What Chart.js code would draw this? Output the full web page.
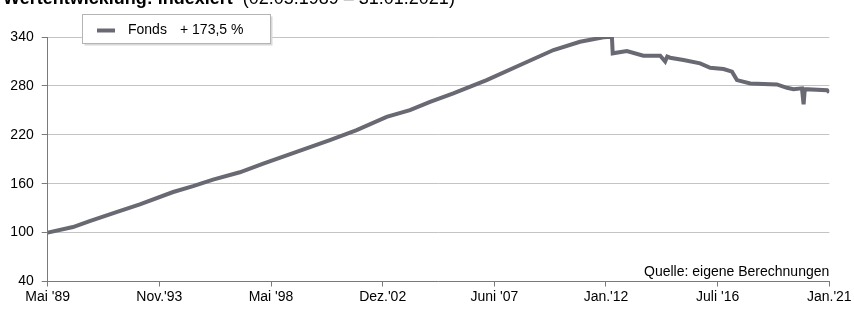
<!DOCTYPE html>
<html>
<head>
<meta charset="utf-8">
<script src="https://cdn.jsdelivr.net/npm/chart.js@4.4.1/dist/chart.umd.min.js"></script>
<style>
  html, body { margin: 0; padding: 0; background: #ffffff; }
  #wrap { width: 854px; height: 309px; position: relative; }
</style>
</head>
<body>
<div id="wrap"><canvas id="c" width="854" height="309"></canvas></div>
<script>
// ---- data (x = months since May 1989) ----
const monthIndex = [0, 12.3, 20.4, 33.4, 44.8, 61, 70.7, 80.4, 93.4, 104.8, 121, 137.2, 150.2, 164.8, 176.1, 185.9, 197.2, 213.4, 229.7, 245.9, 258.8, 270.2, 274.3, 274.7, 281.6, 289.6, 297.8, 300.2, 301.2, 302.6, 309.1, 317.2, 322.1, 328.6, 332.7, 335.1, 341.6, 354.5, 359.4, 362.6, 366.7, 367.5, 368.1, 378.9, 380];
const fondsValues = [100, 106.8, 114.2, 125.2, 134.7, 149.8, 157, 165, 174, 184.7, 199, 213.4, 225.7, 242, 250.2, 260.5, 270.8, 287.1, 305.6, 324, 334.2, 339.6, 340.4, 320, 322.8, 317, 317, 310, 316, 314.6, 311.7, 307.7, 302.3, 300.7, 297.4, 287.1, 283, 281.8, 277.7, 276, 277, 257.3, 276, 274.8, 272];
const xTickLabels = ["Mai '89", "Nov.'93", "Mai '98", "Dez.'02", "Juni '07", "Jan.'12", "Juli '16", "Jan.'21"];
const yTickValues = [40, 100, 160, 220, 280, 340];
const seriesLabel = "Fonds";
const legendSuffix = "+ 173,5 %";
const titleBold = "Wertentwicklung: indexiert";
const titleNormal = "(02.05.1989 \u2013 31.01.2021)";
const sourceNote = "Quelle: eigene Berechnungen";
const totalMonths = 380;

const FONT = "'Liberation Sans', Arial, sans-serif";
const LINE_COLOR = '#696973';

const points = monthIndex.map((m, i) => ({ x: m, y: fondsValues[i] }));

const decorPlugin = {
  id: 'decor',
  beforeDraw(chart) {
    const ctx = chart.ctx;
    ctx.save();
    ctx.fillStyle = '#ffffff';
    ctx.fillRect(0, 0, chart.width, chart.height);
    ctx.restore();
  },
  afterDraw(chart) {
    const ctx = chart.ctx;
    const area = chart.chartArea;
    ctx.save();
    // title (cut off at top)
    ctx.fillStyle = '#000000';
    ctx.textBaseline = 'alphabetic';
    ctx.textAlign = 'left';
    ctx.font = 'bold 18px ' + FONT;
    ctx.fillText(titleBold, 3, 4);
    const w = ctx.measureText(titleBold).width;
    ctx.font = '18px ' + FONT;
    ctx.fillText(titleNormal, 3 + w + 10, 4);

    // source note
    ctx.font = '14px ' + FONT;
    ctx.textAlign = 'right';
    ctx.fillText(sourceNote, area.right, area.bottom - 6);

    // legend box
    const bx = 82.5, by = 14.5, bw = 188, bh = 29;
    ctx.fillStyle = '#d8d8d8';
    ctx.fillRect(bx + 2, by + 2, bw, bh);
    ctx.fillStyle = '#ffffff';
    ctx.fillRect(bx, by, bw, bh);
    ctx.strokeStyle = '#b4b4b4';
    ctx.lineWidth = 1;
    ctx.strokeRect(bx, by, bw, bh);
    ctx.strokeStyle = LINE_COLOR;
    ctx.lineWidth = 4;
    ctx.beginPath();
    ctx.moveTo(97, 30.5);
    ctx.lineTo(115, 30.5);
    ctx.stroke();
    ctx.fillStyle = '#000000';
    ctx.font = '14px ' + FONT;
    ctx.textAlign = 'left';
    ctx.textBaseline = 'middle';
    ctx.fillText(seriesLabel, 128, 30);
    ctx.fillText(legendSuffix, 180, 30);
    ctx.restore();
  }
};

new Chart(document.getElementById('c'), {
  type: 'line',
  data: {
    datasets: [{
      label: seriesLabel,
      data: points,
      borderColor: LINE_COLOR,
      borderWidth: 4,
      pointRadius: 0,
      tension: 0,
      fill: false,
      borderJoinStyle: 'miter'
    }]
  },
  options: {
    responsive: false,
    animation: false,
    devicePixelRatio: 1,
    layout: { padding: { left: 0, right: 24.7, top: 37, bottom: 0 } },
    plugins: { legend: { display: false }, tooltip: { enabled: false }, title: { display: false } },
    scales: {
      x: {
        type: 'linear',
        min: 0,
        max: totalMonths,
        afterBuildTicks(scale) {
          scale.ticks = xTickLabels.map((_, i) => ({ value: i * totalMonths / (xTickLabels.length - 1) }));
        },
        afterFit(scale) { scale.height = 27.5; },
        ticks: {
          autoSkip: false,
          maxRotation: 0,
          padding: 2,
          color: '#000000',
          font: { family: FONT, size: 14 },
          callback(value, index) { return xTickLabels[index]; }
        },
        grid: { drawOnChartArea: false, drawTicks: true, tickLength: 5, tickColor: '#7a7a7a' },
        border: { display: true, color: '#7a7a7a', width: 1 }
      },
      y: {
        min: 40,
        max: 340,
        afterBuildTicks(scale) {
          scale.ticks = yTickValues.map(v => ({ value: v }));
        },
        afterFit(scale) { scale.width = 47.7; },
        ticks: {
          padding: 8,
          color: '#000000',
          font: { family: FONT, size: 14 }
        },
        grid: { color: '#c4c4c4', lineWidth: 1, drawTicks: true, tickLength: 6, tickColor: '#7a7a7a' },
        border: { display: true, color: '#7a7a7a', width: 1 }
      }
    }
  },
  plugins: [decorPlugin]
});
</script>
</body>
</html>
